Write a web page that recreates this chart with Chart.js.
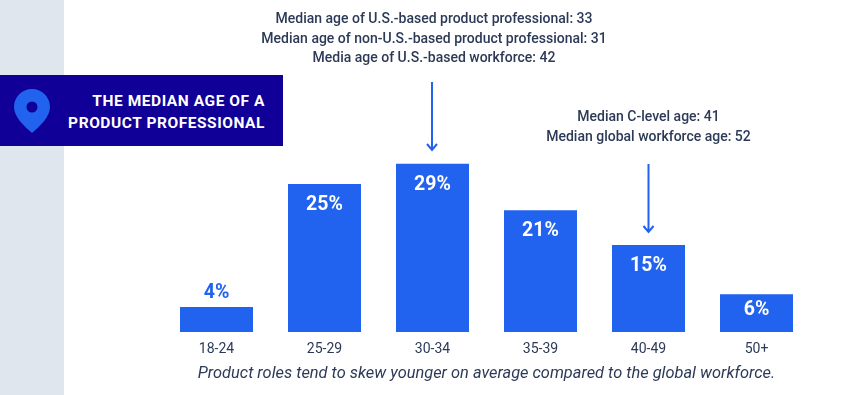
<!DOCTYPE html>
<html>
<head>
<meta charset="utf-8">
<title>The median age of a product professional</title>
<script src="https://cdn.jsdelivr.net/npm/chart.js@4"></script>
<style>
  html, body { margin: 0; padding: 0; background: #fff; }
  #page { position: relative; width: 860px; height: 395px; overflow: hidden; font-family: Roboto, sans-serif; }
  #strip { position: absolute; left: 0; top: 0; width: 64px; height: 395px; background: #e0e6ee; }
  #chartBox { position: absolute; left: 0; top: 0; width: 860px; height: 395px; }
  #banner { position: absolute; left: 0; top: 75px; width: 283px; height: 71px; background: #100098; }
  #banner svg { position: absolute; left: 14px; top: 14px; }
  #bannerText {
    position: absolute; right: 18px; top: 15px; text-align: right; color: #fff;
    font-size: 15.5px; font-weight: 700; line-height: 22px; letter-spacing: 0.55px; white-space: nowrap;
  }
</style>
</head>
<body>
<div id="page">
  <div id="strip"></div>
  <div id="chartBox"><canvas id="ageChart" width="860" height="395"></canvas></div>
  <div id="banner">
    <svg width="36" height="44" viewBox="0 0 36 44">
      <path fill="#2162ee" fill-rule="evenodd" d="M18 0C8 0 0 8 0 18c0 10 10 19 18 26 8-7 18-16 18-26C36 8 28 0 18 0zm0 12.500a5.500 5.500 0 1 1 0 11 5.500 5.500 0 0 1 0-11z"/>
    </svg>
    <div id="bannerText">THE MEDIAN AGE OF A<br>PRODUCT PROFESSIONAL</div>
  </div>
</div>
<script>
const AGE_GROUPS = ['18-24', '25-29', '30-34', '35-39', '40-49', '50+'];
// bar heights as drawn in the picture (the two small bars and 25-29 run a bit taller than their labels)
const BAR_VALUES = [4.3, 25.5, 29, 21, 15, 6.5];
const BAR_LABELS = ['4%', '25%', '29%', '21%', '15%', '6%'];

const NOTE_LEFT = [
  'Median age of U.S.-based product professional: 33',
  'Median age of non-U.S.-based product professional: 31',
  'Media age of U.S.-based workforce: 42',
];
const NOTE_RIGHT = [
  'Median C-level age: 41',
  'Median global workforce age: 52',
];
const CAPTION = 'Product roles tend to skew younger on average compared to the global workforce.';

const BLUE = '#2162ee';
const INK = '#2c3a57';
const FONT = 'Roboto, sans-serif';

function drawArrow(ctx, x, y1, y2) {
  ctx.strokeStyle = BLUE;
  ctx.lineWidth = 2;
  ctx.beginPath();
  ctx.moveTo(x, y1);
  ctx.lineTo(x, y2);
  ctx.moveTo(x - 5, y2 - 6);
  ctx.lineTo(x, y2);
  ctx.lineTo(x + 5, y2 - 6);
  ctx.stroke();
}

const notesPlugin = {
  id: 'notes',
  afterDatasetsDraw(chart) {
    const { ctx, scales } = chart;
    const meta = chart.getDatasetMeta(0);
    ctx.save();
    ctx.textAlign = 'center';
    ctx.textBaseline = 'middle';

    // value labels: inside the bar, except the smallest one
    ctx.font = '700 19.5px ' + FONT;
    meta.data.forEach((bar, i) => {
      const outside = BAR_VALUES[i] < 5;
      const inset = BAR_VALUES[i] < 10 ? 16 : 21;
      ctx.fillStyle = outside ? BLUE : '#fff';
      ctx.fillText(BAR_LABELS[i], bar.x, outside ? bar.y - 14 : bar.y + inset);
    });

    const leftX = scales.x.getPixelForValue(2);
    const rightX = scales.x.getPixelForValue(4);

    ctx.fillStyle = INK;
    ctx.font = '500 14px ' + FONT;
    NOTE_LEFT.forEach((line, i) => ctx.fillText(line, leftX + 1.5, 19.5 + i * 19.5));
    NOTE_RIGHT.forEach((line, i) => ctx.fillText(line, rightX, 117.5 + i * 19.5));

    drawArrow(ctx, leftX - 0.5, 82, 150);
    drawArrow(ctx, rightX, 164, 232);

    ctx.font = 'italic 400 16.4px ' + FONT;
    ctx.fillText(CAPTION, 486.5, 373.5);
    ctx.restore();
  },
};

new Chart(document.getElementById('ageChart'), {
  type: 'bar',
  data: {
    labels: AGE_GROUPS,
    datasets: [{
      data: BAR_VALUES,
      backgroundColor: BLUE,
      borderWidth: 0,
      categoryPercentage: 1,
      barPercentage: 0.676,
    }],
  },
  options: {
    responsive: false,
    animation: false,
    layout: { padding: { left: 162.5, right: 49.5, top: 158, bottom: 0 } },
    plugins: { legend: { display: false }, tooltip: { enabled: false } },
    scales: {
      x: {
        grid: { display: false, drawTicks: false, tickLength: 0 },
        border: { display: false },
        afterFit(scale) { scale.height = 63; },
        ticks: {
          padding: 9,
          color: INK,
          maxRotation: 0,
          font: { family: FONT, size: 14 },
        },
      },
      y: { display: false, min: 0, max: 30 },
    },
  },
  plugins: [notesPlugin],
});
</script>
</body>
</html>
